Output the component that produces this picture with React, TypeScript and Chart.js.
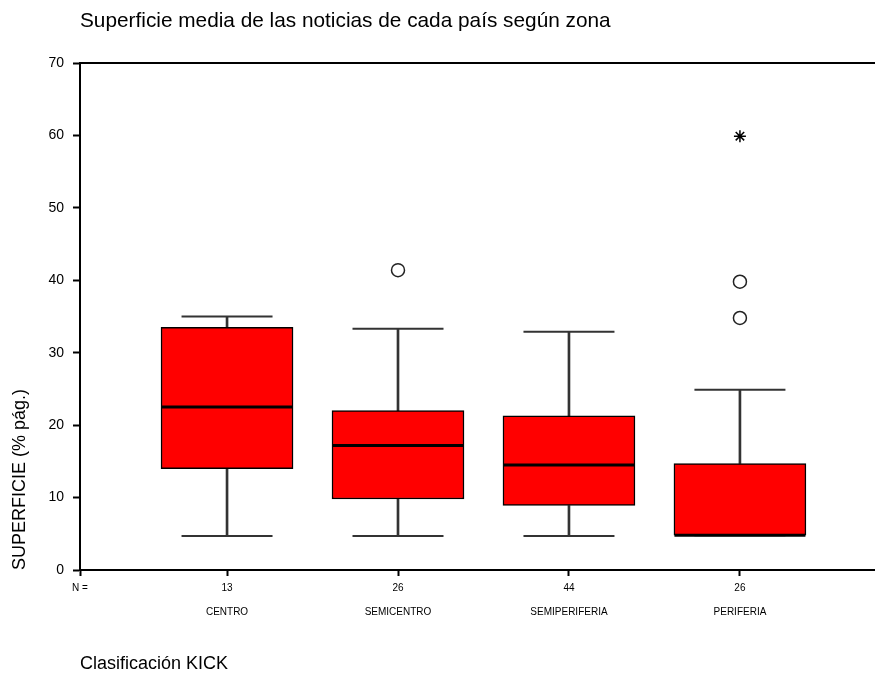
import React, { useEffect, useRef } from 'react';
import { Chart, registerables } from 'chart.js';

Chart.register(...registerables);

// ---- data ----
const chartTitle = 'Superficie media de las noticias de cada país según zona';
const yAxisTitle = 'SUPERFICIE (% pág.)';
const xAxisTitle = 'Clasificación KICK';
const categories = ['CENTRO', 'SEMICENTRO', 'SEMIPERIFERIA', 'PERIFERIA'];
const counts = ['13', '26', '44', '26'];
const countLabel = 'N =';
const whiskerLow = [4.7, 4.7, 4.7, 4.8];
const q1 = [14.0, 9.8, 8.9, 4.8];
const medians = [22.5, 17.2, 14.5, 4.8];
const q3 = [33.5, 22.0, 21.3, 14.7];
const whiskerHigh = [35.0, 33.3, 32.9, 24.9];
const outlierGroups = [2, 4, 4];
const outlierValues = [41.4, 39.8, 34.8];
const extremeGroups = [4];
const extremeValues = [59.9];
const yTicks = [0, 10, 20, 30, 40, 50, 60, 70];

// ---- layout constants ----
const X_MIN = 0.14;
const X_MAX = 4.79;
const FONT = '"Liberation Sans", Arial, sans-serif';

const positions = categories.map((_, i) => i + 1);

const titlePlugin = {
  id: 'leftTitle',
  afterDraw(chart: any) {
    const ctx = chart.ctx;
    ctx.save();
    ctx.font = `20.8px ${FONT}`;
    ctx.fillStyle = '#000';
    ctx.textAlign = 'left';
    ctx.textBaseline = 'middle';
    ctx.fillText(chartTitle, chart.chartArea.left, 21);
    ctx.restore();
  },
};

export default function App() {
  const ref = useRef<HTMLCanvasElement | null>(null);

  useEffect(() => {
    if (!ref.current) return;
    const boxData = positions.map((x, i) => ({ x, y: [q1[i], q3[i]] }));
    const upperWhisker = positions.map((x, i) => ({ x, y: [q3[i], whiskerHigh[i]] }));
    const lowerWhisker = positions.map((x, i) => ({ x, y: [whiskerLow[i], q1[i]] }));
    const caps = [
      ...positions.map((x, i) => ({ x, y: whiskerHigh[i] })),
      ...positions.map((x, i) => ({ x, y: whiskerLow[i] })),
    ];
    const medianPts = positions.map((x, i) => ({ x, y: medians[i] }));
    const outPts = outlierGroups.map((g, i) => ({ x: g, y: outlierValues[i] }));
    const extPts = extremeGroups.map((g, i) => ({ x: g, y: extremeValues[i] }));

    const chart = new Chart(ref.current, {
      type: 'bar',
      data: {
        datasets: [
          {
            type: 'bar',
            data: upperWhisker as any,
            xAxisID: 'x',
            yAxisID: 'y',
            backgroundColor: '#333333',
            borderWidth: 0,
            barThickness: 2,
            grouped: false,
            order: 5,
          },
          {
            type: 'bar',
            data: lowerWhisker as any,
            xAxisID: 'x',
            yAxisID: 'y',
            backgroundColor: '#333333',
            borderWidth: 0,
            barThickness: 2,
            grouped: false,
            order: 5,
          },
          {
            type: 'scatter',
            data: caps,
            xAxisID: 'x',
            yAxisID: 'y',
            pointStyle: 'line',
            pointRadius: 45.5,
            borderColor: '#333333',
            borderWidth: 2,
            order: 4,
          } as any,
          {
            type: 'bar',
            data: boxData as any,
            xAxisID: 'x',
            yAxisID: 'y',
            backgroundColor: '#ff0000',
            borderColor: '#000000',
            borderWidth: 1.5,
            borderSkipped: false,
            barThickness: 132,
            grouped: false,
            order: 3,
          },
          {
            type: 'scatter',
            data: medianPts,
            xAxisID: 'x',
            yAxisID: 'y',
            pointStyle: 'line',
            pointRadius: 65.5,
            borderColor: '#000000',
            borderWidth: 3,
            order: 1,
          } as any,
          {
            type: 'scatter',
            data: outPts,
            xAxisID: 'x',
            yAxisID: 'y',
            pointStyle: 'circle',
            pointRadius: 6.5,
            backgroundColor: 'rgba(255,255,255,0)',
            borderColor: '#222222',
            borderWidth: 1.5,
            order: 0,
          } as any,
          {
            type: 'scatter',
            data: extPts,
            xAxisID: 'x',
            yAxisID: 'y',
            pointStyle: 'star',
            pointRadius: 6,
            borderColor: '#000000',
            borderWidth: 1.5,
            order: 0,
          } as any,
        ],
      },
      options: {
        responsive: false,
        animation: false,
        events: [],
        layout: { autoPadding: false, padding: { top: 63, left: 0, right: 0, bottom: 0 } },
        plugins: {
          legend: { display: false },
          tooltip: { enabled: false },
          title: { display: false },
        },
        scales: {
          x: {
            type: 'linear',
            position: 'bottom',
            offset: false,
            min: X_MIN,
            max: X_MAX,
            afterBuildTicks: (s: any) => {
              s.ticks = [X_MIN, ...positions].map((v) => ({ value: v }));
            },
            afterFit: (s: any) => {
              s.height = 107;
            },
            ticks: {
              autoSkip: false,
              maxRotation: 0,
              minRotation: 0,
              padding: 0,
              color: '#000',
              font: { family: FONT, size: 10, lineHeight: 2.4 },
              callback: (_v: any, index: number) =>
                index === 0 ? [countLabel, ''] : [counts[index - 1], categories[index - 1]],
            },
            grid: {
              offset: false,
              drawOnChartArea: false,
              drawTicks: true,
              tickLength: 6,
              tickWidth: 2,
              color: '#000',
              tickColor: '#000',
            },
            border: { display: true, color: '#000', width: 2 },
            title: {
              display: true,
              text: xAxisTitle,
              align: 'start',
              color: '#000',
              font: { family: FONT, size: 18 },
              padding: { top: 0, bottom: 2 },
            },
          },
          xTop: {
            type: 'linear',
            position: 'top',
            offset: false,
            min: X_MIN,
            max: X_MAX,
            afterFit: (s: any) => {
              s.height = 0;
            },
            ticks: { display: false },
            grid: { display: false, drawTicks: false, offset: false },
            border: { display: true, color: '#000', width: 2 },
          },
          y: {
            type: 'linear',
            min: 0,
            max: 70,
            afterBuildTicks: (s: any) => {
              s.ticks = yTicks.map((v) => ({ value: v }));
            },
            afterFit: (s: any) => {
              s.width = 80;
            },
            ticks: {
              padding: 9,
              color: '#000',
              font: { family: FONT, size: 14 },
            },
            grid: {
              drawOnChartArea: false,
              drawTicks: true,
              tickLength: 7,
              tickWidth: 2,
              color: '#000',
              tickColor: '#000',
            },
            border: { display: true, color: '#000', width: 2 },
            title: {
              display: true,
              text: yAxisTitle,
              align: 'start',
              color: '#000',
              font: { family: FONT, size: 18 },
              padding: { top: 9, bottom: 0 },
            },
          },
        },
      } as any,
      plugins: [titlePlugin],
    });
    return () => chart.destroy();
  }, []);

  return (
    <div style={{ position: 'absolute', left: 0, top: 0, width: 875, height: 677, background: '#fff' }}>
      <canvas ref={ref} width={875} height={677} />
    </div>
  );
}
